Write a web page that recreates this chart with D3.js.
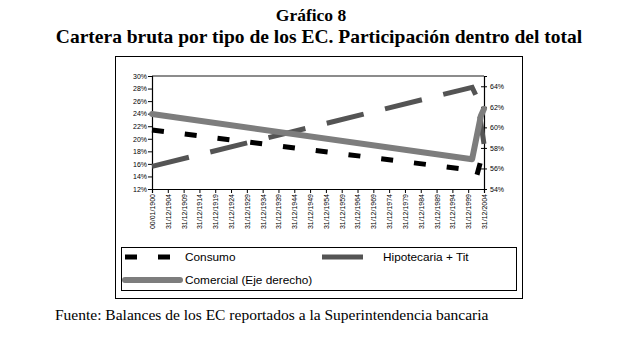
<!DOCTYPE html>
<html>
<head>
<meta charset="utf-8">
<script src="https://cdn.jsdelivr.net/npm/d3@7"></script>
<style>
  body { margin: 0; background: #fff; }
  svg { display: block; }
</style>
</head>
<body>
<svg id="chart" width="622" height="355"></svg>
<script>
// ---- data ----
const tickLabels = ["00/01/1900","31/12/1904","31/12/1909","31/12/1914","31/12/1919","31/12/1924",
  "31/12/1929","31/12/1934","31/12/1939","31/12/1944","31/12/1949","31/12/1954","31/12/1959",
  "31/12/1964","31/12/1969","31/12/1974","31/12/1979","31/12/1984","31/12/1989","31/12/1994",
  "31/12/1999","31/12/2004"];
const dates = ["1899-12-31","2001-03-31","2002-09-30","2003-12-31","2004-12-31"];
const consumo = [21.4, 15.0, 14.2, 16.5, 18.0];
const hipotecaria = [15.6, 28.2, 26.6, 22.5, 19.2];
const comercial = [61.3, 56.9, 59.2, 61.1, 61.8];
const leftTicks = [12,14,16,18,20,22,24,26,28,30];
const rightTicks = [54,56,58,60,62,64];

const title1 = "Gráfico 8";
const title2 = "Cartera bruta por tipo de los EC. Participación dentro del total";
const source = "Fuente: Balances de los EC reportados a la Superintendencia bancaria";

// ---- setup ----
const svg = d3.select("#chart");
const parseD = d3.timeParse("%Y-%m-%d");
const labelToDate = s => s === "00/01/1900" ? new Date(1899,11,31) : d3.timeParse("%d/%m/%Y")(s);

const L = 152, R = 484, T = 76, B = 189;
const x = d3.scaleTime().domain([new Date(1899,11,31), new Date(2004,11,31)]).range([L, R]);
const yL = d3.scaleLinear().domain([12, 30]).range([B, T]);
const yR = d3.scaleLinear().domain([54, 65]).range([B, T]);

const serif = "Liberation Serif, Times New Roman, serif";
// titles
svg.append("text").attr("x", 311).attr("y", 21).attr("text-anchor", "middle")
  .attr("font-family", serif).attr("font-weight", "bold")
  .attr("font-size", 17.5).text(title1);
svg.append("text").attr("x", 319).attr("y", 43).attr("text-anchor", "middle")
  .attr("font-family", serif).attr("font-weight", "bold")
  .attr("font-size", 19.5).text(title2);

// outer frame
svg.append("rect").attr("x", 115.5).attr("y", 56.5).attr("width", 407).attr("height", 242)
  .attr("fill", "none").attr("stroke", "#000").attr("stroke-width", 1);

// plot area top border (gray)
svg.append("line").attr("x1", L).attr("x2", R).attr("y1", T).attr("y2", T)
  .attr("stroke", "#8c8c8c").attr("stroke-width", 2);

// axes
const fontAx = "Liberation Sans, Arial, sans-serif";
const gL = svg.append("g").attr("transform", `translate(${L},0)`)
  .call(d3.axisLeft(yL).tickValues(leftTicks).tickSize(4).tickFormat(d => d + "%"));
const gR = svg.append("g").attr("transform", `translate(${R},0)`)
  .call(d3.axisRight(yR).tickValues(rightTicks).tickSize(3).tickFormat(d => d + "%"));
gR.selectAll(".tick line").attr("x1", -3);
const gX = svg.append("g").attr("transform", `translate(0,${B})`)
  .call(d3.axisBottom(x).tickValues(tickLabels.map(labelToDate)).tickSize(4)
    .tickFormat((d, i) => tickLabels[i]));
[gL, gR, gX].forEach(g => {
  g.select(".domain").attr("stroke", "#000").attr("stroke-width", 1.2);
  g.selectAll(".tick line").attr("stroke", "#000");
  g.selectAll("text").attr("font-family", fontAx).attr("font-size", 7).attr("fill", "#000");
});
gL.selectAll(".tick text").attr("x", -5);
gR.selectAll(".tick text").attr("x", 6);
gX.selectAll(".tick text")
  .attr("transform", "rotate(-90)").attr("text-anchor", "end")
  .attr("x", -5).attr("y", 0).attr("dy", "0.35em");

// lines
const pts = dates.map(parseD);
const lineL = d3.line().x((d, i) => x(pts[i])).y(d => yL(d));
const lineR = d3.line().x((d, i) => x(pts[i])).y(d => yR(d));

svg.append("path").datum(hipotecaria).attr("d", lineL).attr("fill", "none")
  .attr("stroke", "#545454").attr("stroke-width", 5).attr("stroke-dasharray", "38,22");
svg.append("path").datum(consumo).attr("d", lineL).attr("fill", "none")
  .attr("stroke", "#000").attr("stroke-width", 5).attr("stroke-dasharray", "12,21");
svg.append("path").datum(comercial).attr("d", lineR).attr("fill", "none")
  .attr("stroke", "#7d7d7d").attr("stroke-width", 6).attr("stroke-linejoin", "round")
  .attr("stroke-linecap", "round");

// legend
svg.append("rect").attr("x", 121.5).attr("y", 247.5).attr("width", 395).attr("height", 43)
  .attr("fill", "none").attr("stroke", "#000").attr("stroke-width", 1);
const lf = "Liberation Sans, Arial, sans-serif";
svg.append("line").attr("x1", 125).attr("x2", 170).attr("y1", 257).attr("y2", 257)
  .attr("stroke", "#000").attr("stroke-width", 5).attr("stroke-dasharray", "12,21");
svg.append("text").attr("x", 185).attr("y", 261).attr("font-family", lf).attr("font-size", 11.8).text("Consumo");
svg.append("line").attr("x1", 322).attr("x2", 363).attr("y1", 257).attr("y2", 257)
  .attr("stroke", "#545454").attr("stroke-width", 5);
svg.append("text").attr("x", 383).attr("y", 261).attr("font-family", lf).attr("font-size", 11.8).text("Hipotecaria + Tit");
svg.append("line").attr("x1", 125).attr("x2", 180).attr("y1", 280).attr("y2", 280)
  .attr("stroke", "#7d7d7d").attr("stroke-width", 6).attr("stroke-linecap", "round");
svg.append("text").attr("x", 185).attr("y", 284).attr("font-family", lf).attr("font-size", 11.8).text("Comercial (Eje derecho)");

// source
svg.append("text").attr("x", 55).attr("y", 320)
  .attr("font-family", serif).attr("font-size", 15.5).text(source);
</script>
</body>
</html>
